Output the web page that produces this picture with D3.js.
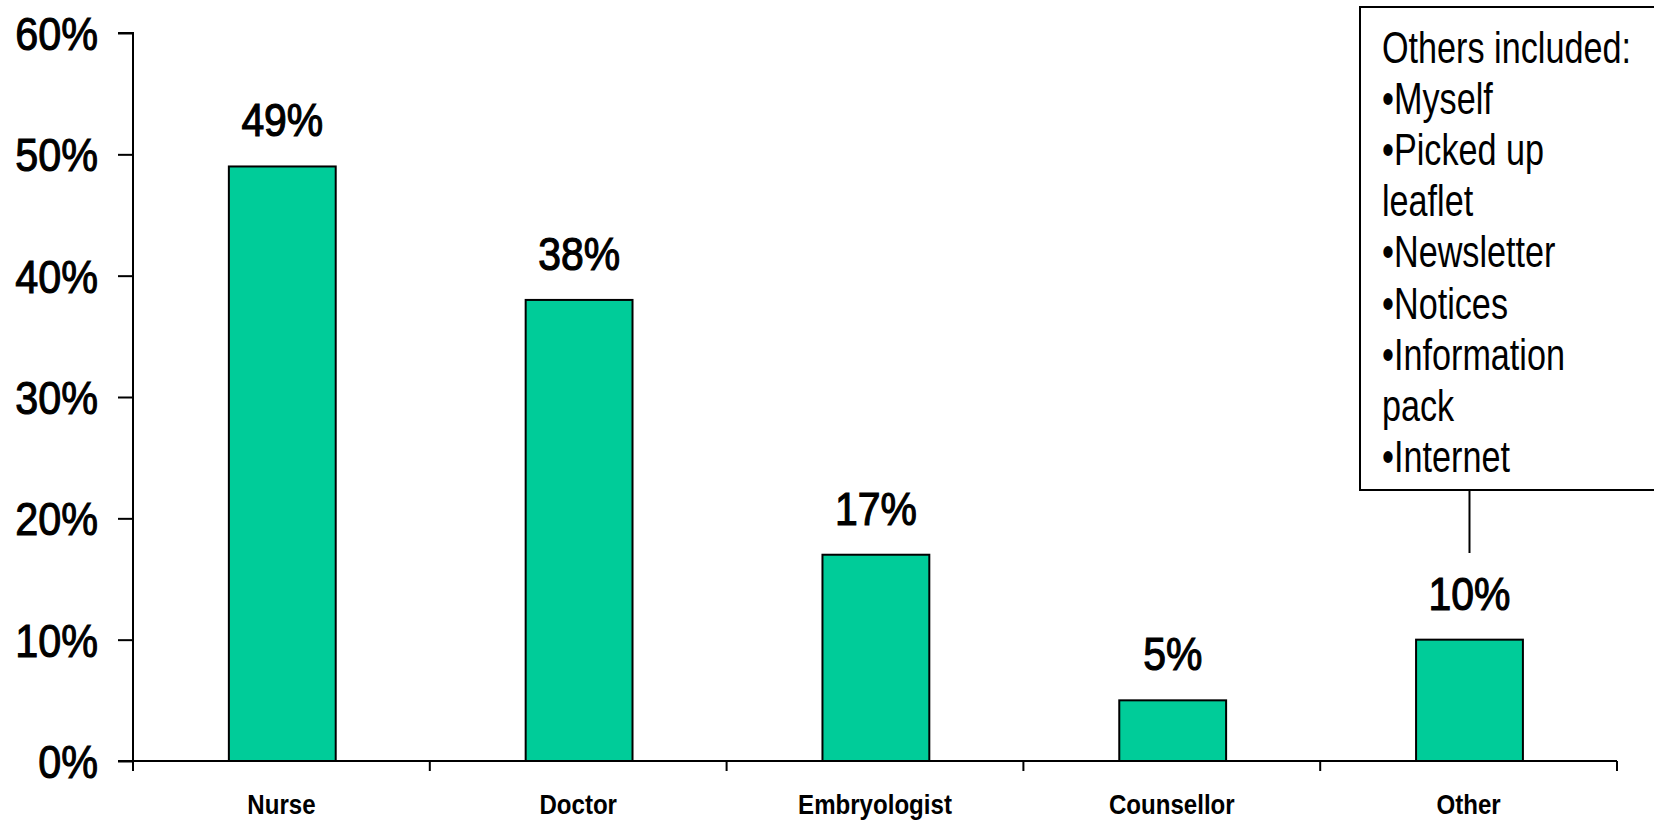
<!DOCTYPE html>
<html>
<head>
<meta charset="utf-8">
<script src="https://cdn.jsdelivr.net/npm/d3@7"></script>
<style>
  html, body { margin: 0; padding: 0; background: #fff; }
  svg { display: block; }
  text { font-family: "Liberation Sans", Arial, sans-serif; }
</style>
</head>
<body>
<svg id="chart" width="1654" height="825"></svg>
<script>
const categories = ["Nurse", "Doctor", "Embryologist", "Counsellor", "Other"];
const values = [49, 38, 17, 5, 10];
const yTicks = [0, 10, 20, 30, 40, 50, 60];
const noteLines = ["Others included:", "\u2022Myself", "\u2022Picked up", "leaflet", "\u2022Newsletter", "\u2022Notices", "\u2022Information", "pack", "\u2022Internet"];

const svg = d3.select("#chart");
const x0 = 133, x1 = 1617, yBottom = 761, yTop = 33;
const FONT = '"Liberation Sans", Arial, sans-serif';

// horizontal condensing helper (mimics a narrow typeface)
function narrow(sel, s, xPos) {
  sel.attr("x", xPos / s).attr("transform", `scale(${s},1)`);
}
// medium weight: regular face with a thin outline
function medium(sel, w) {
  sel.attr("font-weight", "normal").attr("stroke", "#000").attr("stroke-width", w).attr("paint-order", "stroke");
}

const x = d3.scaleBand().domain(categories).range([x0, x1]).padding(0);
const y = d3.scaleLinear().domain([0, 60]).range([yBottom, yTop]);
const bw = x.bandwidth();

// Y axis
const yAxis = svg.append("g").attr("transform", `translate(${x0},0)`)
  .call(d3.axisLeft(y).tickValues(yTicks).tickSize(15).tickPadding(20).tickFormat(d => d + "%"));
yAxis.select(".domain").attr("stroke", "#000").attr("stroke-width", 2).attr("d", `M-15,${yTop}H0V${yBottom + 10}`);
yAxis.selectAll(".tick line").attr("stroke", "#000").attr("stroke-width", 2);
yAxis.selectAll(".tick text").attr("fill", "#000").attr("font-size", 47)
  .attr("dy", "0.35em").style("font-family", FONT)
  .call(medium, 1.1)
  .call(narrow, 0.88, -35);

// X axis
const xAxis = svg.append("g").attr("transform", `translate(0,${yBottom})`)
  .call(d3.axisBottom(x).tickSize(0).tickPadding(0));
xAxis.select(".domain").attr("stroke", "#000").attr("stroke-width", 2).attr("d", `M${x0 - 15},0H${x1}`);
xAxis.selectAll(".tick text").attr("fill", "#000").attr("font-size", 28).attr("font-weight", "bold")
  .attr("y", 53).attr("dy", 0).style("font-family", FONT)
  .call(narrow, 0.86, 0);
const bounds = categories.map(c => x(c)).concat([x(categories[categories.length - 1]) + bw]);
xAxis.selectAll(".bound").data(bounds).enter().append("line")
  .attr("x1", d => d).attr("x2", d => d).attr("y1", 0).attr("y2", 10)
  .attr("stroke", "#000").attr("stroke-width", 2);

// Bars
svg.selectAll(".bar").data(categories).enter().append("rect")
  .attr("x", (c) => x(c) + bw * 0.323)
  .attr("width", bw * 0.36)
  .attr("y", (c, i) => y(values[i]))
  .attr("height", (c, i) => yBottom - y(values[i]))
  .attr("fill", "#00CC99").attr("stroke", "#000").attr("stroke-width", 2);

// Value labels
svg.selectAll(".val").data(categories).enter().append("g")
  .attr("transform", (c, i) => `translate(${x(c) + bw * 0.503},${y(values[i]) - 30})`)
  .append("text")
  .attr("y", 0)
  .attr("text-anchor", "middle").attr("font-size", 47).attr("fill", "#000")
  .text((c, i) => values[i] + "%")
  .call(medium, 1.2)
  .call(narrow, 0.87, 0);

// Annotation box
const boxTop = 7, boxBottom = 490, boxLeft = 1360;
svg.append("rect").attr("x", boxLeft).attr("y", boxTop).attr("width", 400).attr("height", boxBottom - boxTop)
  .attr("fill", "#fff").attr("stroke", "#000").attr("stroke-width", 2);
const otherCx = x("Other") + bw * 0.503;
svg.append("line").attr("x1", otherCx).attr("x2", otherCx).attr("y1", boxBottom).attr("y2", 553)
  .attr("stroke", "#000").attr("stroke-width", 2);
svg.selectAll(".note").data(noteLines).enter().append("g")
  .attr("transform", (d, i) => `translate(1382,${63 + i * 51.1})`)
  .append("text")
  .attr("y", 0)
  .attr("font-size", 45).attr("fill", "#000").text(d => d)
  .call(narrow, 0.76, 0);
</script>
</body>
</html>
